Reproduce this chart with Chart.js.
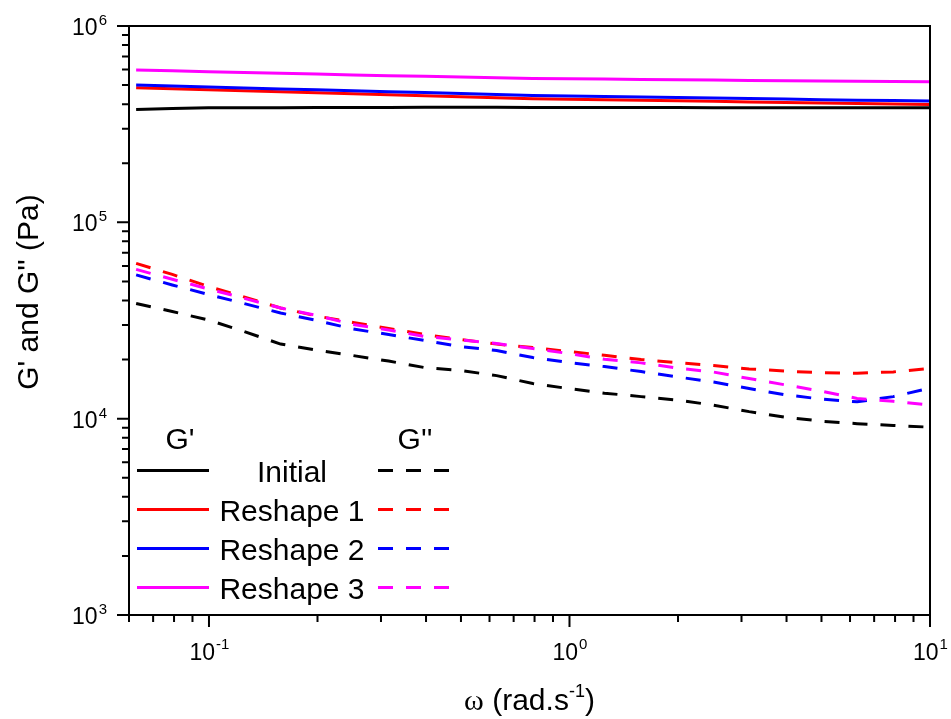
<!DOCTYPE html>
<html>
<head>
<meta charset="utf-8">
<script src="https://cdn.jsdelivr.net/npm/chart.js@4.4.1/dist/chart.umd.min.js"></script>
<style>
  html, body { margin: 0; padding: 0; background: #ffffff; }
  #wrap { width: 951px; height: 719px; position: relative; }
  canvas { display: block; }
</style>
</head>
<body>
<div id="wrap"><canvas id="c" width="951" height="719"></canvas></div>
<script>
// Angular frequency sweep (rad/s)
const omega = [0.0628, 0.0791, 0.0996, 0.125, 0.158, 0.199, 0.251, 0.315, 0.397, 0.5,
               0.628, 0.791, 0.996, 1.25, 1.58, 1.99, 2.51, 3.15, 3.97, 5.0, 6.28, 7.91, 10.0];

// Storage modulus G' (Pa)
const gpInitial  = [375800, 379800, 383000, 383500, 383900, 384300, 384700, 385000, 385200, 385200, 385200, 385000,
                    384800, 384500, 384200, 384000, 383800, 383600, 383400, 383200, 383100, 383000, 383000];
const gpReshape1 = [484400, 478700, 473200, 467600, 462200, 456800, 451400, 446200, 441000, 435800, 430700, 426200,
                    423700, 421300, 418300, 415900, 413400, 410600, 408100, 405800, 403400, 401000, 398700];
const gpReshape2 = [500000, 494700, 488900, 483800, 478100, 473200, 468200, 462700, 457800, 452500, 447700, 443000,
                    440500, 437400, 434900, 432300, 429300, 426800, 424300, 421300, 418800, 416900, 414400];
const gpReshape3 = [596500, 590900, 585400, 579900, 574500, 569100, 563700, 558400, 553900, 549300, 544800, 541000,
                    538400, 536500, 534100, 532100, 530300, 528400, 526500, 524700, 523500, 521600, 519800];

// Loss modulus G'' (Pa)
const gppInitial  = [38600, 35140, 31810, 27800, 23990, 22360, 20960, 19650, 18200, 17580, 16570, 15090,
                     14230, 13490, 12950, 12430, 11720, 10860, 10180, 9710, 9430, 9230, 9050];
const gppReshape1 = [61780, 54290, 47150, 41690, 36620, 33340, 30890, 28800, 26830, 25300, 23990, 23020,
                     21970, 21040, 20000, 19310, 18640, 17930, 17470, 17130, 17030, 17310, 18040];
const gppReshape2 = [53970, 47980, 42920, 38610, 34530, 31620, 28620, 26830, 25000, 23300, 22230, 20480,
                     19310, 18420, 17370, 16320, 15360, 14230, 13230, 12580, 12180, 12950, 14310];
const gppReshape3 = [57570, 51310, 45780, 41060, 36620, 33530, 30170, 28280, 26210, 25150, 24130, 22760,
                     21460, 20070, 19240, 18100, 17270, 16000, 14860, 13810, 12680, 12250, 11720];

// Sample names and colours
const sampleNames  = ['Initial', 'Reshape 1', 'Reshape 2', 'Reshape 3'];
const sampleColors = ['#000000', '#ff0000', '#0000ff', '#ff00ff'];

// Axis ticks
const xMajorTicks = [0.1, 1, 10];
const xTickExps   = ['-1', '0', '1'];
const yMajorTicks = [1e3, 1e4, 1e5, 1e6];
const yTickExps   = ['3', '4', '5', '6'];

const SANS  = "'Liberation Sans', Arial, sans-serif";
const SERIF = "'Liberation Serif', 'Times New Roman', serif";
const DASH  = [15, 13];

function series(values) {
  return omega.map((w, i) => ({ x: w, y: values[i] }));
}

const gpSets  = [gpInitial, gpReshape1, gpReshape2, gpReshape3];
const gppSets = [gppInitial, gppReshape1, gppReshape2, gppReshape3];

const datasets = [];
// G'' dashed curves
for (let i = 3; i >= 0; i--) {
  datasets.push({
    label: sampleNames[i] + " G''",
    data: series(gppSets[i]),
    borderColor: sampleColors[i],
    borderWidth: 3,
    borderDash: DASH,
    fill: false
  });
}
// G' solid curves
for (let i = 3; i >= 0; i--) {
  datasets.push({
    label: sampleNames[i] + " G'",
    data: series(gpSets[i]),
    borderColor: sampleColors[i],
    borderWidth: 3,
    fill: false
  });
}

function minorValues(min, max) {
  const out = [];
  for (let d = Math.floor(Math.log10(min)); d <= Math.ceil(Math.log10(max)); d++) {
    for (let m = 2; m <= 9; m++) {
      const v = m * Math.pow(10, d);
      if (v >= min * 0.999 && v <= max * 1.001) out.push(v);
    }
  }
  return out;
}

// Draws "10" with a superscript exponent; returns total width
function powWidth(ctx, exp, size, supSize) {
  ctx.font = size + 'px ' + SANS;
  const w1 = ctx.measureText('10').width;
  ctx.font = supSize + 'px ' + SANS;
  return w1 + ctx.measureText(exp).width;
}
function drawPow(ctx, exp, x, y, size, supSize, raise) {
  ctx.textAlign = 'left';
  ctx.textBaseline = 'alphabetic';
  ctx.font = size + 'px ' + SANS;
  ctx.fillText('10', x, y);
  const w1 = ctx.measureText('10').width;
  ctx.font = supSize + 'px ' + SANS;
  ctx.fillText(exp, x + w1 + 1, y - raise);
}

const axesPlugin = {
  id: 'originAxes',
  afterDraw(chart) {
    const ctx = chart.ctx;
    const xs = chart.scales.x, ys = chart.scales.y;
    const a = chart.chartArea;
    ctx.save();
    ctx.strokeStyle = '#000';
    ctx.fillStyle = '#000';

    // Frame
    ctx.lineWidth = 2;
    ctx.strokeRect(a.left, a.top, a.right - a.left, a.bottom - a.top);

    // X ticks
    ctx.lineWidth = 2;
    ctx.beginPath();
    xMajorTicks.forEach(v => {
      const p = xs.getPixelForValue(v);
      ctx.moveTo(p, a.bottom); ctx.lineTo(p, a.bottom + 12);
    });
    minorValues(xs.min, xs.max).forEach(v => {
      const p = xs.getPixelForValue(v);
      ctx.moveTo(p, a.bottom); ctx.lineTo(p, a.bottom + 7);
    });
    // Y ticks
    yMajorTicks.forEach(v => {
      const p = ys.getPixelForValue(v);
      ctx.moveTo(a.left, p); ctx.lineTo(a.left - 12, p);
    });
    minorValues(ys.min, ys.max).forEach(v => {
      const p = ys.getPixelForValue(v);
      ctx.moveTo(a.left, p); ctx.lineTo(a.left - 7, p);
    });
    ctx.stroke();

    // X tick labels
    xMajorTicks.forEach((v, i) => {
      const p = xs.getPixelForValue(v);
      const w = powWidth(ctx, xTickExps[i], 23, 15);
      drawPow(ctx, xTickExps[i], p - w / 2, a.bottom + 45, 23, 15, 11);
    });
    // Y tick labels
    yMajorTicks.forEach((v, i) => {
      const p = ys.getPixelForValue(v);
      const w = powWidth(ctx, yTickExps[i], 23, 15);
      drawPow(ctx, yTickExps[i], 106 - w, p + 9, 23, 15, 10);
    });

    // X axis title
    {
      const parts = [
        { t: '\u03C9', f: '30px ' + SERIF, dy: 0 },
        { t: ' (rad.s', f: '30px ' + SANS, dy: 0 },
        { t: '-1', f: '18px ' + SANS, dy: -13 },
        { t: ')', f: '30px ' + SANS, dy: 0 }
      ];
      let total = 0;
      parts.forEach(pt => { ctx.font = pt.f; pt.w = ctx.measureText(pt.t).width; total += pt.w; });
      let x = (a.left + a.right) / 2 - total / 2;
      ctx.textAlign = 'left';
      ctx.textBaseline = 'alphabetic';
      parts.forEach(pt => { ctx.font = pt.f; ctx.fillText(pt.t, x, 710 + pt.dy); x += pt.w; });
    }

    // Y axis title
    ctx.save();
    ctx.translate(38, 292);
    ctx.rotate(-Math.PI / 2);
    ctx.font = '30px ' + SANS;
    ctx.textAlign = 'center';
    ctx.textBaseline = 'alphabetic';
    ctx.fillText("G' and G'' (Pa)", 0, 0);
    ctx.restore();

    // Legend
    ctx.font = '30px ' + SANS;
    ctx.textAlign = 'center';
    ctx.textBaseline = 'alphabetic';
    ctx.fillText("G'", 180, 449);
    ctx.fillText("G''", 415, 449);
    const rowY = [470.5, 509.5, 548.5, 587.5];
    sampleNames.forEach((name, i) => {
      const y = rowY[i];
      ctx.strokeStyle = sampleColors[i];
      ctx.lineWidth = 3;
      ctx.setLineDash([]);
      ctx.beginPath(); ctx.moveTo(137, y); ctx.lineTo(209, y); ctx.stroke();
      ctx.setLineDash(DASH);
      ctx.beginPath(); ctx.moveTo(378, y); ctx.lineTo(450, y); ctx.stroke();
      ctx.setLineDash([]);
      ctx.fillStyle = '#000';
      ctx.fillText(name, 292, y + 11);
    });
    ctx.restore();
  }
};

new Chart(document.getElementById('c'), {
  type: 'line',
  data: { datasets },
  options: {
    responsive: false,
    animation: false,
    devicePixelRatio: 1,
    layout: { padding: { left: 129, right: 21, top: 26, bottom: 104 } },
    elements: { point: { radius: 0 }, line: { tension: 0, borderCapStyle: 'butt' } },
    scales: {
      x: { type: 'logarithmic', min: 0.06, max: 10, display: false },
      y: { type: 'logarithmic', min: 1000, max: 1e6, display: false }
    },
    plugins: { legend: { display: false }, tooltip: { enabled: false } }
  },
  plugins: [axesPlugin]
});
</script>
</body>
</html>
